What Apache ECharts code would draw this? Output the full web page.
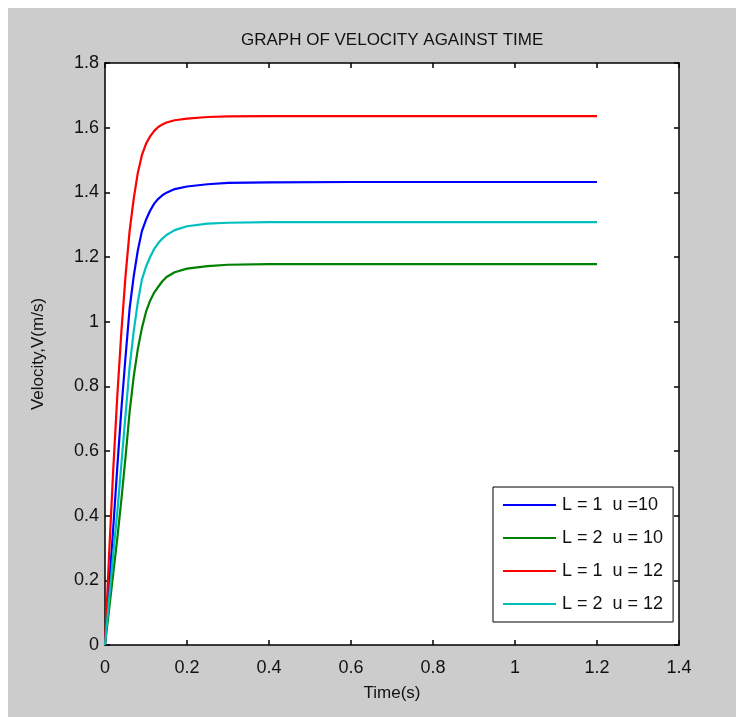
<!DOCTYPE html>
<html>
<head>
<meta charset="utf-8">
<script src="https://cdn.jsdelivr.net/npm/echarts@6/dist/echarts.min.js"></script>
<style>
  html, body { margin: 0; padding: 0; background: #ffffff; }
  #bg { position: absolute; left: 8px; top: 8px; width: 728px; height: 709px; background: #cccccc; }
  #chart { position: absolute; left: 0; top: 0; width: 736px; height: 717px; }
</style>
</head>
<body>
<div id="bg"></div>
<div id="chart"></div>
<script>
// Data
const titleText = 'GRAPH OF VELOCITY AGAINST TIME';
const xAxisName = 'Time(s)';
const yAxisName = 'Velocity,V(m/s)';
const seriesNames = ['L = 1  u =10', 'L = 2  u = 10', 'L = 1  u = 12', 'L = 2  u = 12'];
const time     = [0, 0.01, 0.02, 0.03, 0.04, 0.05, 0.06, 0.07, 0.08, 0.09, 0.10, 0.11, 0.12, 0.13, 0.14, 0.15, 0.17, 0.2, 0.25, 0.3, 0.4, 0.6, 0.8, 1.0, 1.2];
const velL1u10 = [0, 0.18, 0.36, 0.55, 0.73, 0.89, 1.04, 1.14, 1.22, 1.28, 1.315, 1.343, 1.365, 1.38, 1.391, 1.399, 1.41, 1.418, 1.425, 1.429, 1.431, 1.432, 1.432, 1.432, 1.432];
const velL2u10 = [0, 0.11, 0.22, 0.33, 0.45, 0.58, 0.72, 0.83, 0.915, 0.98, 1.03, 1.065, 1.09, 1.108, 1.125, 1.138, 1.153, 1.164, 1.172, 1.176, 1.178, 1.178, 1.178, 1.178, 1.178];
const velL1u12 = [0, 0.28, 0.54, 0.77, 0.97, 1.14, 1.28, 1.38, 1.46, 1.515, 1.55, 1.573, 1.59, 1.602, 1.61, 1.616, 1.623, 1.628, 1.633, 1.635, 1.636, 1.636, 1.636, 1.636, 1.636];
const velL2u12 = [0, 0.14, 0.28, 0.41, 0.56, 0.71, 0.86, 0.97, 1.06, 1.13, 1.17, 1.2, 1.225, 1.243, 1.257, 1.268, 1.283, 1.295, 1.303, 1.306, 1.308, 1.308, 1.308, 1.308, 1.308];
const xTicks = { min: 0, max: 1.4, interval: 0.2 };
const yTicks = { min: 0, max: 1.8, interval: 0.2 };

const colors = ['#0000ff', '#008000', '#ff0000', '#00bfbf'];
const values = [velL1u10, velL2u10, velL1u12, velL2u12];
const FONT = '"Liberation Sans", Arial, sans-serif';

const chart = echarts.init(document.getElementById('chart'), null, { renderer: 'canvas' });

const axisLine = { show: true, onZero: false, lineStyle: { color: '#000', width: 1.5 } };
const axisTick = { show: true, inside: true, length: 5, lineStyle: { color: '#000', width: 1.5 } };

const option = {
  animation: false,
  backgroundColor: 'transparent',
  title: {
    text: titleText,
    left: 241,
    top: 32,
    padding: 0,
    textStyle: { fontFamily: FONT, fontSize: 17, fontWeight: 'normal', color: '#111' }
  },
  grid: {
    left: 105, top: 63, width: 574, height: 582,
    show: true, backgroundColor: '#ffffff', borderWidth: 0
  },
  legend: {
    orient: 'vertical',
    left: 493,
    top: 487,
    padding: [8, 10, 8, 10],
    itemGap: 13,
    itemWidth: 53,
    itemHeight: 2,
    icon: 'rect',
    backgroundColor: '#ffffff',
    borderColor: '#000',
    borderWidth: 1,
    borderRadius: 0,
    textStyle: { fontFamily: FONT, fontSize: 18, color: '#111', lineHeight: 20, padding: [0, 0, 0, 1] },
    data: seriesNames
  },
  xAxis: [
    {
      type: 'value', position: 'bottom',
      min: xTicks.min, max: xTicks.max, interval: xTicks.interval,
      name: xAxisName, nameLocation: 'middle', nameGap: 40,
      nameTextStyle: { fontFamily: FONT, fontSize: 17, color: '#111' },
      axisLine: axisLine, axisTick: axisTick,
      axisLabel: { margin: 14, fontFamily: FONT, fontSize: 18, color: '#111' },
      splitLine: { show: false }
    },
    {
      type: 'value', position: 'top',
      min: xTicks.min, max: xTicks.max, interval: xTicks.interval,
      axisLine: axisLine, axisTick: axisTick,
      axisLabel: { show: false }, splitLine: { show: false }
    }
  ],
  yAxis: [
    {
      type: 'value', position: 'left',
      min: yTicks.min, max: yTicks.max, interval: yTicks.interval,
      name: yAxisName, nameLocation: 'middle', nameGap: 58,
      nameTextStyle: { fontFamily: FONT, fontSize: 17, color: '#111' },
      axisLine: axisLine, axisTick: axisTick,
      axisLabel: { margin: 6, fontFamily: FONT, fontSize: 18, color: '#111', padding: [6, 0, 0, 0] },
      splitLine: { show: false }
    },
    {
      type: 'value', position: 'right',
      min: yTicks.min, max: yTicks.max, interval: yTicks.interval,
      axisLine: axisLine, axisTick: axisTick,
      axisLabel: { show: false }, splitLine: { show: false }
    }
  ],
  series: seriesNames.map((name, i) => ({
    name: name,
    type: 'line',
    xAxisIndex: 0,
    yAxisIndex: 0,
    showSymbol: false,
    smooth: false,
    color: colors[i],
    lineStyle: { color: colors[i], width: 2.2 },
    data: time.map((t, j) => [t, values[i][j]])
  }))
};

chart.setOption(option);
</script>
</body>
</html>
